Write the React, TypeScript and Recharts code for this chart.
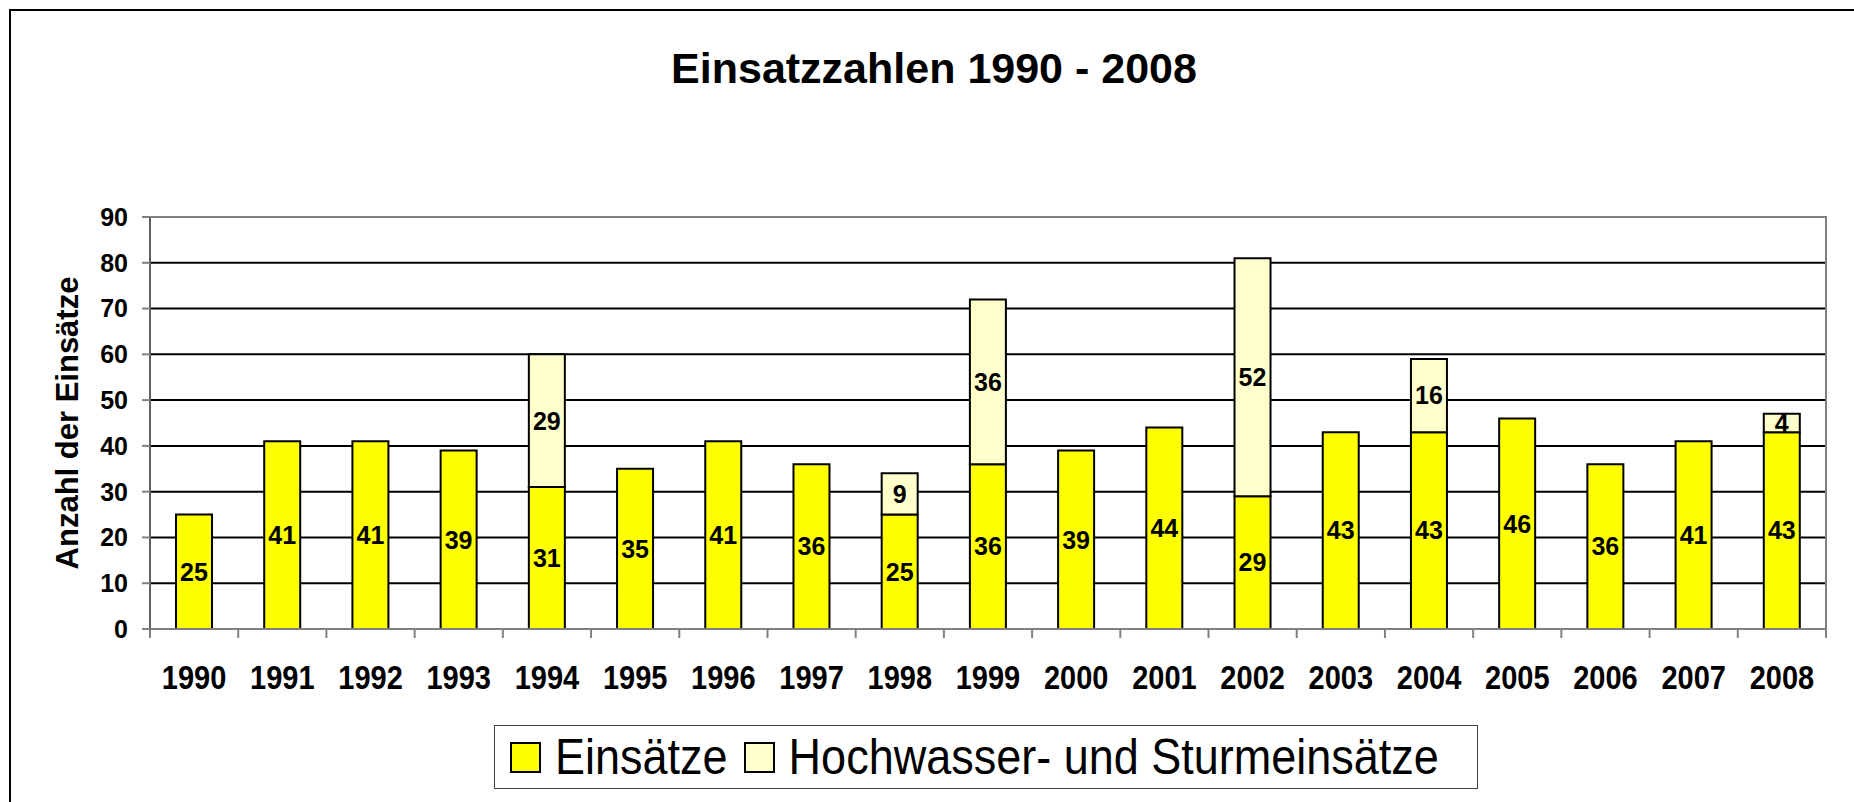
import { BarChart, Bar, XAxis, YAxis, CartesianGrid, ReferenceArea, LabelList } from 'recharts'

const years = ['1990', '1991', '1992', '1993', '1994', '1995', '1996', '1997', '1998', '1999',
  '2000', '2001', '2002', '2003', '2004', '2005', '2006', '2007', '2008']
const einsaetze = [25, 41, 41, 39, 31, 35, 41, 36, 25, 36, 39, 44, 29, 43, 43, 46, 36, 41, 43]
const hochwasser = [null, null, null, null, 29, null, null, null, 9, 36, null, null, 52, null, 16, null, null, null, 4]
const yTicks = [0, 10, 20, 30, 40, 50, 60, 70, 80, 90]

const FONT = '"Liberation Sans", Arial, Helvetica, sans-serif'
const W = 1854
const H = 802
const PLOT_LEFT = 150
const PLOT_RIGHT = 1826
const PLOT_TOP = 217
const PLOT_BOTTOM = 629
const BAND = (PLOT_RIGHT - PLOT_LEFT) / years.length

const data = years.map((year, i) => ({
  year,
  einsaetze: einsaetze[i],
  hochwasser: hochwasser[i]
}))

function XTick(props: any) {
  const { x, y, payload, index } = props
  const left = x - BAND / 2
  const right = x + BAND / 2
  return (
    <g>
      <line x1={left} x2={left} y1={y} y2={y + 9} stroke="#808080" strokeWidth={2} />
      {index === years.length - 1 && (
        <line x1={right} x2={right} y1={y} y2={y + 9} stroke="#808080" strokeWidth={2} />
      )}
      <text transform={`translate(${x}, ${y + 60}) scale(1, 1.15)`} x={0} y={0} textAnchor="middle"
        fontFamily={FONT} fontWeight="bold" fontSize={29} fill="#000">
        {payload.value}
      </text>
    </g>
  )
}

function YLabel(props: any) {
  const { viewBox } = props
  const cx = viewBox.x + 67
  const cy = viewBox.y + viewBox.height / 2
  return (
    <text x={cx} y={cy} transform={`rotate(-90, ${cx}, ${cy})`} textAnchor="middle" dominantBaseline="central"
      fontFamily={FONT} fontWeight="bold" fontSize={31} fill="#000">
      Anzahl der Einsätze
    </text>
  )
}

const labelFmt = (v: any) => (v ? String(v) : '')

function LegendSwatch({ color }: { color: string }) {
  return <span style={{ display: 'inline-block', width: 27, height: 27, background: color, border: '2px solid #000' }} />
}

export default function App() {
  return (
    <div style={{ position: 'fixed', left: 0, top: 0, width: W, height: H, background: '#fff', overflow: 'hidden', fontFamily: FONT }}>
      <div style={{ position: 'absolute', left: 9, top: 9, width: W, height: H, borderLeft: '2px solid #000', borderTop: '2px solid #000' }} />
      <div style={{ position: 'absolute', left: 0, top: 47, width: 1868, textAlign: 'center', fontSize: 43, lineHeight: '43px', fontWeight: 'bold', color: '#000' }}>
        Einsatzzahlen 1990 - 2008
      </div>
      <div style={{ position: 'absolute', left: 0, top: 0 }}>
        <BarChart
          width={W}
          height={H}
          data={data}
          margin={{ top: PLOT_TOP, right: W - PLOT_RIGHT, bottom: H - PLOT_BOTTOM - 60, left: 0 }}
          barSize={36}
        >
          <CartesianGrid vertical={false} stroke="#000" strokeWidth={2} horizontalValues={yTicks} />
          <ReferenceArea y1={0} y2={90} fill="none" fillOpacity={0} stroke="#808080" strokeWidth={2} ifOverflow="visible" />
          <XAxis
            dataKey="year"
            height={60}
            interval={0}
            tickSize={0}
            tickMargin={0}
            tickLine={false}
            axisLine={{ stroke: '#808080', strokeWidth: 2 }}
            tick={<XTick />}
          />
          <YAxis
            width={PLOT_LEFT}
            domain={[0, 90]}
            ticks={yTicks}
            interval={0}
            tickSize={8}
            tickMargin={14}
            tickLine={{ stroke: '#808080', strokeWidth: 2 }}
            axisLine={{ stroke: '#606060', strokeWidth: 2 }}
            tick={{ fill: '#000', fontSize: 25, fontWeight: 'bold', fontFamily: FONT }}
            label={<YLabel />}
          />
          <Bar dataKey="einsaetze" stackId="a" fill="#FFFF00" stroke="#000" strokeWidth={2} isAnimationActive={false}>
            <LabelList dataKey="einsaetze" position="center" formatter={labelFmt}
              style={{ fill: '#000', fontSize: 25, fontWeight: 'bold', fontFamily: FONT }} />
          </Bar>
          <Bar dataKey="hochwasser" stackId="a" fill="#FFFFCC" stroke="#000" strokeWidth={2} isAnimationActive={false}>
            <LabelList dataKey="hochwasser" position="center" formatter={labelFmt}
              style={{ fill: '#000', fontSize: 25, fontWeight: 'bold', fontFamily: FONT }} />
          </Bar>
        </BarChart>
      </div>
      <div style={{
        position: 'absolute', left: 494, top: 725, width: 984, height: 64, boxSizing: 'border-box',
        border: '1px solid #404040', display: 'flex', alignItems: 'center', paddingLeft: 15,
        fontSize: 45, color: '#000', whiteSpace: 'nowrap'
      }}>
        <LegendSwatch color="#FFFF00" />
        <span style={{ marginLeft: 14, display: 'inline-block', transform: 'scaleY(1.1)' }}>Einsätze</span>
        <span style={{ marginLeft: 16, display: 'inline-flex' }}><LegendSwatch color="#FFFFCC" /></span>
        <span style={{ marginLeft: 14, display: 'inline-block', transform: 'scaleY(1.1)' }}>Hochwasser- und Sturmeinsätze</span>
      </div>
    </div>
  )
}
